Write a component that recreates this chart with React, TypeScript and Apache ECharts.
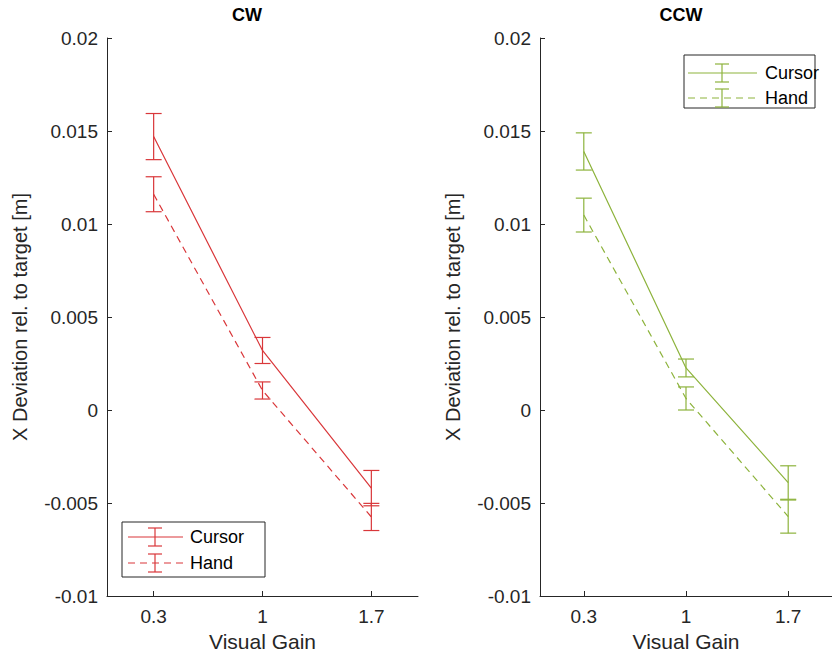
import React, { useEffect, useRef } from "react";
import * as echarts from "echarts";

const gains = [0.3, 1, 1.7];
const tickGains = [0.3, 1, 1.7];
const cwCursorMean = [0.0147, 0.0032, -0.0042];
const cwCursorErr = [0.00124, 0.0007, 0.00095];
const cwHandMean = [0.0116, 0.00105, -0.00575];
const cwHandErr = [0.00094, 0.00046, 0.00073];
const ccwCursorMean = [0.0139, 0.00226, -0.0039];
const ccwCursorErr = [0.001, 0.00048, 0.0009];
const ccwHandMean = [0.01048, 0.00062, -0.00573];
const ccwHandErr = [0.00091, 0.00062, 0.00089];

const RED = "#d9373a";
const GREEN = "#8db33c";
const AX = "#262626";
const FONT = "Liberation Sans, Arial, sans-serif";

function lineSeries(name: string, means: number[], idx: number, color: string, dashed: boolean) {
  return {
    name,
    type: "line",
    xAxisIndex: idx,
    yAxisIndex: idx,
    data: gains.map((g, i) => [g, means[i]]),
    symbol: "none",
    lineStyle: { color, width: 1.2, type: dashed ? [7, 5] : "solid" },
    silent: true,
  };
}

function errSeries(name: string, means: number[], errs: number[], idx: number, color: string) {
  return {
    name: name + " err",
    type: "custom",
    xAxisIndex: idx,
    yAxisIndex: idx,
    encode: { x: 0, y: [1, 2] },
    data: gains.map((g, i) => [g, means[i] - errs[i], means[i] + errs[i]]),
    renderItem: (params: any, api: any) => {
      const x = api.value(0);
      const lo = api.value(1);
      const hi = api.value(2);
      const p1 = api.coord([x, hi]);
      const p2 = api.coord([x, lo]);
      const w = 8;
      const st = { stroke: color, lineWidth: 1.2 };
      return {
        type: "group",
        children: [
          { type: "line", shape: { x1: p1[0], y1: p1[1], x2: p2[0], y2: p2[1] }, style: st },
          { type: "line", shape: { x1: p1[0] - w, y1: p1[1], x2: p1[0] + w, y2: p1[1] }, style: st },
          { type: "line", shape: { x1: p2[0] - w, y1: p2[1], x2: p2[0] + w, y2: p2[1] }, style: st },
        ],
      };
    },
    silent: true,
  };
}

function legendGraphic(bx: number, by: number, bw: number, bh: number, l1: number, l2: number, ex: number, tx: number, rows: number[], color: string, fs: number) {
  const els: any[] = [
    { type: "rect", shape: { x: bx, y: by, width: bw, height: bh }, style: { fill: "#fff", stroke: AX, lineWidth: 1 } },
  ];
  const labels = ["Cursor", "Hand"];
  rows.forEach((ry, i) => {
    const st = { stroke: color, lineWidth: 1.2, lineDash: i === 1 ? [7, 5] : null };
    const es = { stroke: color, lineWidth: 1.2 };
    els.push({ type: "line", shape: { x1: l1, y1: ry, x2: l2, y2: ry }, style: st });
    els.push({ type: "line", shape: { x1: ex, y1: ry - 9, x2: ex, y2: ry + 9 }, style: es });
    els.push({ type: "line", shape: { x1: ex - 7, y1: ry - 9, x2: ex + 7, y2: ry - 9 }, style: es });
    els.push({ type: "line", shape: { x1: ex - 7, y1: ry + 9, x2: ex + 7, y2: ry + 9 }, style: es });
    els.push({
      type: "text",
      x: tx,
      y: ry,
      style: { text: labels[i], fill: "#000", font: `${fs}px ${FONT}`, textAlign: "left", textVerticalAlign: "middle" },
    });
  });
  return els;
}

function yAxisCfg(idx: number) {
  return {
    type: "value",
    gridIndex: idx,
    min: -0.01,
    max: 0.02,
    interval: 0.005,
    splitLine: { show: false },
    axisLine: { show: true, lineStyle: { color: AX, width: 1 } },
    axisTick: { show: true, inside: true, length: 5, lineStyle: { color: AX } },
    axisLabel: {
      color: AX,
      fontSize: 19,
      fontFamily: FONT,
      margin: 9,
      formatter: (v: number) => String(Number(v.toFixed(4))),
    },
    name: "X Deviation rel. to target [m]",
    nameLocation: "middle",
    nameGap: 77,
    nameTextStyle: { color: AX, fontSize: 20, fontFamily: FONT },
  };
}

function xAxisCfg(idx: number) {
  return {
    type: "value",
    gridIndex: idx,
    min: 0,
    max: 2,
    splitLine: { show: false },
    axisLine: { show: true, onZero: false, lineStyle: { color: AX, width: 1 } },
    axisTick: { show: true, inside: true, length: 5, customValues: tickGains, lineStyle: { color: AX } },
    axisLabel: { color: AX, fontSize: 19, fontFamily: FONT, margin: 11, customValues: tickGains, formatter: (v: number) => String(v) },
    name: "Visual Gain",
    nameLocation: "middle",
    nameGap: 28,
    nameTextStyle: { color: AX, fontSize: 21, fontFamily: FONT, verticalAlign: "top" },
  };
}

export default function App() {
  const ref = useRef<HTMLDivElement>(null);
  useEffect(() => {
    if (!ref.current) return;
    const chart = echarts.init(ref.current, undefined, { renderer: "svg" });
    chart.setOption({
      animation: false,
      backgroundColor: "#fff",
      textStyle: { fontFamily: FONT },
      grid: [
        { left: 107, top: 38, width: 311, height: 558 },
        { left: 540, top: 38, width: 298, height: 558 },
      ],
      xAxis: [xAxisCfg(0), xAxisCfg(1)],
      yAxis: [yAxisCfg(0), yAxisCfg(1)],
      series: [
        lineSeries("CW Cursor", cwCursorMean, 0, RED, false),
        lineSeries("CW Hand", cwHandMean, 0, RED, true),
        errSeries("CW Cursor", cwCursorMean, cwCursorErr, 0, RED),
        errSeries("CW Hand", cwHandMean, cwHandErr, 0, RED),
        lineSeries("CCW Cursor", ccwCursorMean, 1, GREEN, false),
        lineSeries("CCW Hand", ccwHandMean, 1, GREEN, true),
        errSeries("CCW Cursor", ccwCursorMean, ccwCursorErr, 1, GREEN),
        errSeries("CCW Hand", ccwHandMean, ccwHandErr, 1, GREEN),
      ],
      graphic: [
        { type: "text", x: 247, y: 15, style: { text: "CW", fill: "#000", font: `bold 18px ${FONT}`, textAlign: "center", textVerticalAlign: "middle" } },
        { type: "text", x: 681, y: 15, style: { text: "CCW", fill: "#000", font: `bold 18px ${FONT}`, textAlign: "center", textVerticalAlign: "middle" } },
        ...legendGraphic(122, 522, 143, 55, 128, 183, 155, 190, [537, 563], RED, 18),
        ...legendGraphic(684, 55, 131, 53, 688, 757, 722, 765, [73, 98], GREEN, 18),
      ],
    });
    return () => chart.dispose();
  }, []);
  return <div ref={ref} style={{ position: "absolute", left: 0, top: 0, width: 832, height: 659 }} />;
}
